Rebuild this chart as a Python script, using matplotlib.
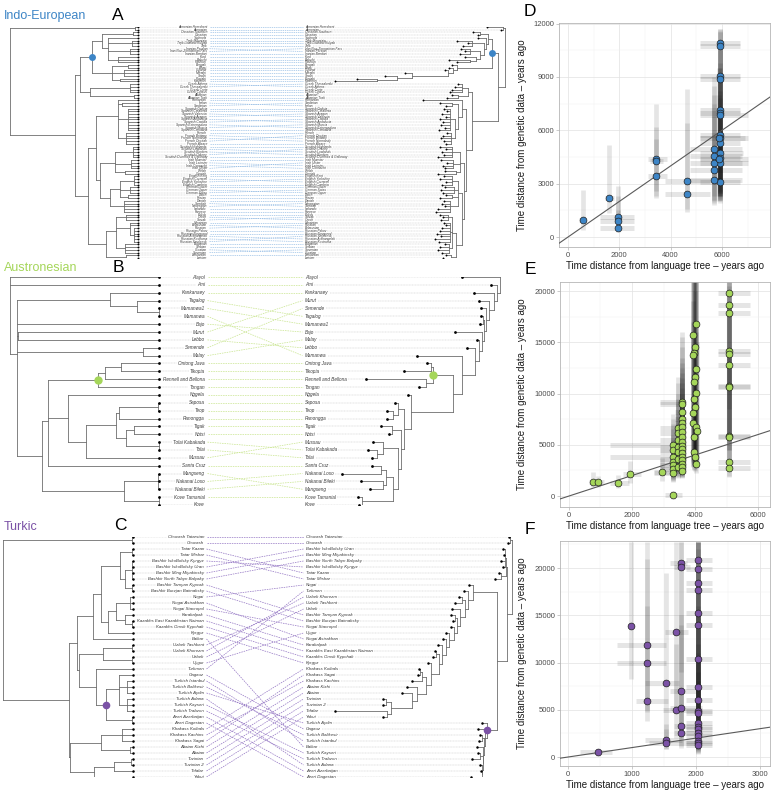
import matplotlib
matplotlib.use("Agg")
import matplotlib.pyplot as plt
from matplotlib.collections import LineCollection
from matplotlib.ticker import MultipleLocator

plt.rcParams["font.family"] = ["Liberation Sans", "DejaVu Sans"]

# ---------------------------------------------------------------- colours
IE_COL = "#3d85c6"
AN_COL = "#a5d65a"
TU_COL = "#7b52a6"
TREE_COL = "#6e6e6e"
LABEL_COL = "#3a3a3a"
GUIDE_COL = "#c4c4c4"

# ---------------------------------------------------------------- trees
# language trees: [node age (years), children...]; a bare string is a tip (age 0)
# genetic trees: [depth from root, children...]; ("tip", depth)

IE_LANG_TREE = [5930,
    [139, "Armenian Hemshent", "Armenian"],
    [2917,
        [2685,
            [2130,
                [1667, [231, "Ossetian Southern", "Ossetian"],
                       [1389, "Yaghnobi", [278, "Tajik Mountain", "Tajik Lowland Kulyab", "Tajik"],
                              [370, "Iranian Persian", "Iran Non-Zoroastrian Fars", "Iranian Bandari"],
                              [926, "Kurd", "Balochi", "Pashtun"]]],
                [1204, [463, "Bengali", "Bihari"], [648, "Gujarati", "Marathi", "Sindhi"],
                       [833, "Punjabi", "Kashmiri"]]],
            [2222, [370, "Greek Athens", "Greek Thessaloniki", "Greek Crete", "Greek Cyprus"],
                   [185, "Albanian", "Albanian Tosk"]]],
        [2315,
            [1945,
                [926, "Romanian", [741, "Italian", "Sardinian"],
                      [463, "Spanish Galicia", "Spanish Catalonia", "Spanish Valencia", "Spanish Aragon",
                            "Spanish Andalucia", "Spanish Castilla", "Spanish Extremadura", "Spanish Murcia",
                            "Spanish Cantabria"],
                      [556, "French", "French Brittany", "French Normandy", "French Occitan", "French Alsace"]],
                [1759,
                    [1065, [231, "Scottish Highlands", "Scottish Lowlands", "Scottish Borders", "Scottish Orkney",
                                 "Scottish Dumfries & Galloway"],
                           [324, "Irish Munster", "Irish Leinster", "Irish Connacht", "Irish Ulster"],
                           [602, "Welsh", "Cornish"]],
                    [1296, [833, [185, "English Kent", "English Cornwall", "English Yorkshire", "English Cumbria"],
                                 [370, "German Lower", "German Upper", "German Swiss"],
                                 [463, "Dutch", "Frisian"]],
                           [648, "Danish", "Swedish", "Norwegian", "Icelandic", "Faroese"]]]],
            [1482,
                [1019, [556, "Polish", "Czech", "Slovak"],
                       [370, "Ukrainian", "Belarusian",
                             [185, "Russian", "Russian Pskov", "Russian Novgorod", "Russian Arkhangelsk",
                                   "Russian Kostroma", "Russian Smolensk"]],
                       [602, "Bulgarian", "Serbian", "Croatian", "Slovenian"]],
                [556, "Lithuanian", "Latvian"]]]]]

IE_GEN_TREE = [0,
    [2, ("Armenian Hemshent", 18), ("Armenian", 4)],
    [7,
        [13,
            [17, [25, ("Ossetian Southern", 32), ("Ossetian", 27)],
                [19, ("Yaghnobi", 27),
                    [21, [33, ("Tajik Mountain", 48), ("Tajik Lowland Kulyab", 37), ("Tajik", 42)],
                        [25, [35, ("Iran Non-Zoroastrian Fars", 44), ("Iranian Persian", 40), ("Iranian Bandari", 45)],
                            [29, ("Kurd", 40), [35, ("Balochi", 56), ("Pashtun", 48)]]]]]],
            [48, ("Bengali", 53),
                [52, ("Bihari", 56),
                    [57, ("Gujarati", 60),
                        [93, ("Marathi", 100),
                            [108, ("Sindhi", 120), [128, ("Punjabi", 148), ("Kashmiri", 170)]]]]]]],
        [33,
            [37, [43, ("Greek Thessaloniki", 47), ("Greek Athens", 50), ("Greek Crete", 53), ("Greek Cyprus", 55)],
                 [47, ("Albanian", 53), ("Albanian Tosk", 58)]],
            [39,
                [43, ("Romanian", 82),
                    [47, [53, ("Sardinian", 65), ("Italian", 59)],
                        [50, [55, ("Spanish Galicia", 61), ("Spanish Catalonia", 58), ("Spanish Aragon", 63),
                                  ("Spanish Valencia", 59), ("Spanish Castilla", 65), ("Spanish Andalucia", 62),
                                  ("Spanish Murcia", 64), ("Spanish Extremadura", 60), ("Spanish Cantabria", 66)],
                             [54, ("French", 58), ("French Occitan", 62), ("French Brittany", 64),
                                  ("French Normandy", 61), ("French Alsace", 59)]]]],
                [41,
                    [45, [53, ("Scottish Highlands", 65), ("Scottish Orkney", 59), ("Scottish Lowlands", 63),
                              ("Scottish Borders", 61), ("Scottish Dumfries & Galloway", 67)],
                         [52, ("Irish Munster", 64), ("Irish Ulster", 58), ("Irish Leinster", 62), ("Irish Connacht", 60)],
                         [49, ("Welsh", 60), ("Cornish", 67)]],
                    [43,
                        [47, [53, ("English Kent", 61), ("English Yorkshire", 65), ("English Cornwall", 59),
                                  ("English Cumbria", 63)],
                             [51, ("German Lower", 60), ("German Swiss", 64), ("German Upper", 62)],
                             [53, ("Dutch", 59), ("Frisian", 65)],
                             [55, ("Danish", 61), ("Norwegian", 63), ("Swedish", 60), ("Icelandic", 67), ("Faroese", 69)]],
                        [49,
                            [53, [57, ("Polish", 65), ("Slovak", 62), ("Czech", 64)],
                                 [55, ("Ukrainian", 61), ("Russian", 59), ("Belarusian", 63), ("Russian Pskov", 65),
                                      ("Russian Novgorod", 68), ("Russian Smolensk", 64), ("Russian Arkhangelsk", 70),
                                      ("Russian Kostroma", 66)],
                                 [56, ("Bulgarian", 60), ("Serbian", 65), ("Slovenian", 67), ("Croatian", 63)]],
                            [54, ("Lithuanian", 59), ("Latvian", 62)]]]]]]]]

AN_LANG_TREE = [5090, "Alayol", "Ami",
    [4850,
        [1674, "Kankanaey", [752, "Tagalog", [12, "Mamanwa1", "Mamanwa"]]],
        "Bajo",
        [4820, "Murut", "Lebbo"],
        [547, "Semende", "Malay"],
        [3997,
            [3792,
                [2084, [1845, [1298, "Ontong Java", "Tikopia"], "Rennell and Bellona"], "Tongan"],
                [3109, "Nggela",
                    [2494,
                        [1469, [1366, [34, "Saposa", "Teop"], "Ranongga"],
                               [1127, [854, "Tigak", "Notsi"], [10, "Tolai Kabakada", "Tolai"]]],
                        "Mussau"]],
                "Santa Cruz"],
            [1196, [25, "Mangseng", "Nakanai Loso", "Nakanai Bileki"], [15, "Kove Tamanial", "Kove"]]]]]

AN_GEN_TREE = [0, ("Alayol", 38),
    [3, ("Ami", 9),
        [6, ("Kankanaey", 26),
            [11, ("Murut", 21),
                [14, ("Semende", 19),
                    [16, [17, ("Tagalog", 19), ("Mamanwa1", 20)],
                        [18, ("Bajo", 45),
                            [21, ("Malay", 23),
                                [25, ("Lebbo", 33),
                                    [38, ("Mamanwa", 83),
                                        [47,
                                            [67, [69, ("Ontong Java", 73), ("Tikopia", 96)],
                                                 [74, ("Rennell and Bellona", 134), ("Tongan", 81)]],
                                            [89, ("Nggela", 92),
                                                [96,
                                                    [102, ("Saposa", 105), [107, ("Teop", 113), ("Ranongga", 113)]],
                                                    [99,
                                                        [108, ("Tigak", 119), ("Notsi", 111)],
                                                        [102,
                                                            [117, ("Mussau", 127),
                                                                  [123, ("Tolai Kabakada", 132), ("Tolai", 128)]],
                                                            [107,
                                                                [114, [119, ("Santa Cruz", 128), ("Nakanai Loso", 158)],
                                                                      [117, ("Nakanai Bileki", 139), ("Mangseng", 130)]],
                                                                [138, ("Kove Tamanial", 142), ("Kove", 141)]]]]]]]]]]]]]]]]]

TU_LANG_TREE = [2030,
    [16, "Chuvash Tatarstan", "Chuvash"],
    [998,
        [874,
            [624,
                [499,
                    [203, [16, "Tatar Kazan", "Tatar Mishar"],
                          [125, [16, "Bashkir IskoBolsky Kyrgyz", "Bashkir IskoBolsky Uran",
                                     "Bashkir Ming Miyakinsky", "Bashkir North Tabyn Balyaky"],
                                [16, "Bashkir Tamyan Kypcak", "Bashkir Burzjan Baimaksky"]]],
                    [390, [265, [47, "Nogai", "Nogai Astrakhan", "Nogai Stavropol"],
                                [125, "Karakalpak", [16, "Kazakhs East Kazakhstan Naiman", "Kazakhs Omsk Kypchak"]]],
                          "Kyrgyz"]],
                "Balkar"],
            [842,
                [468, [16, "Uzbek Tashkent", "Uzbek Khorezm"], [16, "Uzbek", "Uygur"]],
                [577, "Turkmen",
                    [421, [218, "Gagauz", [94, "Turkish Istanbul", "Turkish Balikesir", "Turkish Aydin"],
                                         [94, "Turkish Adana", "Turkish Kayseri", "Turkish Trabzon"]],
                          [16, "Azeri Azerbaijan", "Azeri Dagestan"]]]]],
        [983,
            [499, [172, "Khakass Koibals", "Khakass Kachins", "Khakass Sagai"], [47, "Altaian Kizhi", "Altaian"]],
            [608, [296, [31, "Tuvinian", "Tuvinian 2"], "Tofalar"], "Yakut"]]]]

TU_GEN_TREE = [0,
    [2, ("Chuvash Tatarstan", 3), ("Chuvash", 4)],
    [5,
        [6, [7.5, ("Bashkir IskoBolsky Uran", 9), ("Bashkir Ming Miyakinsky", 8),
                  ("Bashkir North Tabyn Balyaky", 11), ("Bashkir IskoBolsky Kyrgyz", 9)],
            [11, ("Tatar Kazan", 13), ("Tatar Mishar", 17)]],
        [15,
            [39, ("Nogai", 43),
                [44, ("Turkmen", 48),
                    [47, [50, ("Uzbek Khorezm", 53), ("Uzbek Tashkent", 57)],
                        [52, ("Uzbek", 60),
                            [55, [57, ("Bashkir Tamyan Kypcak", 61), ("Bashkir Burzjan Baimaksky", 59)],
                                [58, ("Nogai Stavropol", 61),
                                    [63, ("Uygur", 66),
                                        [66, ("Nogai Astrakhan", 69),
                                            [70, ("Karakalpak", 74),
                                                [73.5, [76, ("Kazakhs East Kazakhstan Naiman", 77), ("Kazakhs Omsk Kypchak", 79)],
                                                    [81, ("Kyrgyz", 84),
                                                        [86, [90, [92, ("Khakass Koibals", 93), ("Khakass Sagai", 94)],
                                                                  ("Khakass Kachins", 100)],
                                                            [95, ("Altaian Kizhi", 105),
                                                                [100, ("Altaian", 110),
                                                                    [121, [126, ("Tuvinian", 129), ("Tuvinian 2", 129)],
                                                                          [125, ("Tofalar", 177), ("Yakut", 129)]]]]]]]]]]]]]]]],
            [25, ("Turkish Aydin", 30),
                [27, ("Gagauz", 34),
                    [28, [30, ("Turkish Balikesir", 32), ("Turkish Istanbul", 33)],
                        [29, ("Balkar", 35),
                            [29.5, [32, ("Turkish Kayseri", 34), ("Turkish Trabzon", 40)],
                                [30, ("Turkish Adana", 32),
                                     [30.5, ("Azeri Azerbaijan", 31.5), ("Azeri Dagestan", 41)]]]]]]]]]]

# the dated node (coloured dot) of each tree, given by two tips it spans
IE_DOT = ("Ossetian Southern", "Kashmiri")
AN_DOT = ("Ontong Java", "Tongan")
TU_LANG_DOT = ("Gagauz", "Azeri Dagestan")
TU_GEN_DOT = ("Turkish Aydin", "Azeri Dagestan")

# ---------------------------------------------------------------- scatter data
D_x = [570, 1610, 1940, 1940, 1940, 3420, 3420, 3420, 4640, 4640,
       5930, 5930, 5930, 5930, 5930, 5930, 5930, 5930, 5930, 5930, 5930, 5930, 5930, 5930,
       5690, 5690, 5690, 5690, 5690, 5870, 5870]
D_y = [950, 2210, 1110, 920, 510, 4370, 4280, 3430, 3150, 2420,
       10900, 10710, 9060, 8880, 7150, 6990, 6860, 5740, 5550, 5270, 4710, 4430, 4150, 3110,
       4940, 4560, 4150, 3770, 3210, 5550, 4370]
D_xlo = [430, 1450, 1260, 1260, 1260, 3100, 3200, 3100, 3780, 3780,
         5140, 5140, 5140, 5140, 5140, 5140, 5140, 5140, 5140, 5140, 5140, 5140, 5140, 5140,
         4760, 4760, 4760, 4760, 4760, 5140, 5140]
D_xhi = [720, 1780, 2570, 2570, 2570, 3870, 3700, 3870, 5540, 5540,
         6700, 6700, 6700, 6700, 6700, 6700, 7030, 6700, 6900, 6700, 6800, 6700, 7030, 6700,
         6770, 6770, 6770, 6770, 6770, 7030, 7030]
D_ylo = [380, 1340, 390, 600, 300, 2180, 2600, 2300, 1430, 1600,
         2400, 3000, 2200, 2600, 2300, 2500, 2300, 2100, 2300, 2500, 2000, 2300, 2100, 1900,
         2300, 2100, 2000, 1900, 1800, 2300, 2000]
D_yhi = [2640, 5180, 2860, 2300, 1500, 7480, 6200, 5500, 8310, 6400,
         11700, 11700, 11500, 11600, 11000, 10500, 9800, 9500, 9000, 8800, 8200, 7800, 7200, 6000,
         9000, 8500, 8000, 7500, 6800, 9500, 8000]

E_x = [770, 930, 1570, 1940, 2940, 3310,
       3310, 3310, 3310, 3310, 3310, 3310, 3310,
       3470, 3470, 3470, 3470, 3470, 3470, 3470,
       3580, 3580, 3580, 3580, 3580, 3580, 3580, 3580, 3580, 3580, 3580, 3580, 3580, 3580, 3580, 3580, 3580,
       4030, 3950, 4000, 3980, 3950, 4030, 4010, 3970, 4030, 3970, 4000, 3950, 3950, 4030, 4050, 3980, 3970, 4000, 4030,
       5090, 5090, 5090, 5090, 5090, 5090, 5090, 5090, 5090, 5090, 5090, 5090]
E_y = [1390, 1390, 1300, 2110, 2370, 60,
       4940, 4480, 3840, 3350, 3020, 2600, 2200,
       6600, 6110, 5460, 4810, 4320, 3570, 2860,
       9200, 8970, 8220, 7480, 7090, 6760, 6270, 5790, 5300, 4880, 4550, 4160, 3840, 3510, 3120, 2800, 2440,
       16830, 15690, 14560, 13910, 13750, 12350, 11640, 11150, 10010, 9420, 8710, 8060, 7090, 6760, 6370, 5790, 4320, 3840, 3120,
       19850, 18630, 17880, 14170, 13810, 12770, 10720, 10590, 5850, 5720, 3350, 2700]
E_xlo = [640, 780, 1300, 1700, 2700, 3050,
         1300, 2890, 1300, 2890, 2890, 2890, 2700,
         2890, 2890, 2890, 2890, 2890, 2890, 2890,
         2890, 2890, 3380, 3380, 3380, 3380, 3380, 3380, 3380, 3380, 3380, 3380, 3380, 3380, 3380, 3380, 3380,
         3900, 3880, 3900, 3900, 3880, 3900, 3900, 3880, 3900, 3880, 3900, 3880, 3880, 3900, 3950, 3900, 3880, 3900, 3900,
         4720, 4720, 4720, 4720, 4720, 4720, 4720, 4720, 4720, 4720, 4720, 4720]
E_xhi = [1000, 1100, 1900, 2300, 3200, 3580,
         3530, 3530, 3530, 3530, 3530, 3530, 3310,
         3620, 3620, 3620, 3620, 3620, 3620, 3620,
         3620, 3620, 3700, 3700, 3700, 3700, 3700, 3700, 3700, 3700, 3700, 3700, 3700, 3700, 3700, 3700, 3700,
         4100, 4050, 4100, 4080, 4050, 4100, 4100, 4060, 4100, 4060, 4100, 4050, 4050, 4100, 4150, 4080, 4060, 4100, 4100,
         5730, 5730, 5730, 5730, 5730, 5730, 5730, 5730, 5730, 5730, 5730, 5730]
E_ylo = [900, 900, 800, 1300, 1500, -300,
         2000, 1900, 1800, 1700, 1600, 1500, 1400,
         2500, 2400, 2200, 2100, 2000, 1900, 1800,
         3500, 3400, 3200, 3000, 2900, 2800, 2700, 2600, 2500, 2400, 2300, 2200, 2100, 2000, 1900, 1900, 1800,
         3500, 3400, 3300, 3300, 3200, 3200, 3100, 3100, 3000, 3000, 2900, 2900, 2800, 2800, 2700, 2600, 2500, 2400, 2200,
         9000, 8500, 8000, 6000, 5800, 5500, 4500, 4500, 2500, 2400, 2000, 1900]
E_yhi = [2300, 2000, 2100, 3400, 3700, 500,
         8000, 7500, 7000, 6500, 6000, 5500, 5000,
         11600, 11000, 10000, 9500, 9000, 8000, 7000,
         16000, 15500, 14500, 13500, 13000, 12500, 12000, 11500, 11000, 10500, 10000, 9500, 9000, 8500, 8000, 7500, 7000,
         21500, 21500, 21500, 21500, 21500, 21500, 21500, 21500, 21000, 21000, 20000, 19000, 17000, 16000, 15000, 14000, 11000, 10000, 8500,
         21500, 21500, 21500, 21000, 20500, 20000, 19000, 18500, 14000, 13500, 9000, 8000]

F_x = [470, 980, 1240, 1240, 1240, 1530, 1530, 1530, 1690, 1690, 1770, 1770, 1770, 1770, 1770, 1770,
       2030, 2030, 2030, 2030, 2030, 2030, 2030, 2030, 2030, 2030, 2030, 2030, 2030, 2030, 2030, 2030, 2030, 2030, 2030]
F_y = [490, 13870, 11860, 9920, 5930, 7870, 1800, 1520, 13270, 4980, 20510, 20090, 6990, 5150, 3320, 2510,
       20860, 19870, 18390, 17680, 15280, 13980, 10340, 7450, 6030, 4900, 4690, 3570, 3220, 2930, 2580, 2230, 1740, 1460, 1250]
F_xlo = [180, 940, 760, 760, 1060, 1210, 1210, 1260, 1510, 1480, 1600, 1650, 1600, 1600, 1650, 1650,
         1850, 1850, 1850, 1850, 1850, 1850, 1850, 1850, 1850, 1850, 1850, 1850, 1850, 1850, 1850, 1850, 1850, 1850, 1850]
F_xhi = [680, 1020, 1530, 1530, 1570, 1740, 1780, 2000, 1880, 2100, 1860, 1900, 2000, 2100, 2100, 2100,
         2250, 2250, 2250, 2250, 2250, 2250, 2250, 2250, 2250, 2250, 2250, 2250, 2250, 2250, 2250, 2250, 2250, 2250, 2250]
F_ylo = [100, 8280, 5000, 4800, 3800, 1200, 900, 800, 5000, 2000, 9000, 8000, 2500, 2000, 1200, 1000,
         6000, 5500, 5000, 4800, 4000, 3500, 2500, 2000, 1500, 1200, 1200, 1000, 900, 800, 700, 600, 500, 400, 300]
F_yhi = [900, 22800, 22800, 21000, 16000, 19500, 3500, 3000, 22800, 12000, 22800, 22800, 15000, 14000, 8000, 7000,
         22800, 22800, 22800, 22800, 22800, 22800, 22000, 20000, 18000, 16000, 15000, 12000, 11000, 10000, 9000, 8000, 6000, 5000, 4500]

# ---------------------------------------------------------------- figure
W, H = 771, 790
fig = plt.figure(figsize=(W / 100, H / 100), dpi=100)
fig.patch.set_facecolor("white")


def box(left, top, right, bottom):
    return [left / W, 1 - bottom / H, (right - left) / W, (bottom - top) / H]


def build(node):
    if isinstance(node, str):
        return {"name": node, "v": 0.0, "kids": []}
    if isinstance(node, tuple):
        return {"name": node[0], "v": float(node[1]), "kids": []}
    return {"name": None, "v": float(node[0]), "kids": [build(c) for c in node[1:]]}


def leaves(n):
    if not n["kids"]:
        return [n]
    return [t for k in n["kids"] for t in leaves(k)]


def place(n, ymap, xmap):
    n["x"] = xmap(n["v"])
    if not n["kids"]:
        n["y"] = ymap[n["name"]]
        return
    for k in n["kids"]:
        place(k, ymap, xmap)
    n["y"] = sum(k["y"] for k in n["kids"]) / len(n["kids"])


def segments(n, out):
    if not n["kids"]:
        return
    ys = [k["y"] for k in n["kids"]]
    out.append([(n["x"], min(ys)), (n["x"], max(ys))])
    for k in n["kids"]:
        out.append([(n["x"], k["y"]), (k["x"], k["y"])])
        segments(k, out)


def mrca(n, names):
    for k in n["kids"]:
        if names <= {t["name"] for t in leaves(k)}:
            return mrca(k, names)
    return n


def draw_tree(ax, root, xmap, dot_pair, dot_col, dot_ms, tip_ms):
    ymap = {t["name"]: i for i, t in enumerate(leaves(root))}
    place(root, ymap, xmap)
    segs = []
    segments(root, segs)
    ax.add_collection(LineCollection(segs, colors=TREE_COL, linewidths=0.6,
                                     capstyle="projecting", zorder=2))
    tips = leaves(root)
    ax.plot([t["x"] for t in tips], [t["y"] for t in tips], "o", ms=tip_ms,
            color="black", mew=0, zorder=3)
    node = mrca(root, set(dot_pair))
    ax.plot(node["x"], node["y"], "o", ms=dot_ms, color=dot_col, mew=0, zorder=4)
    return tips


def tanglegram(lang, gen, cfg):
    ax = fig.add_axes(box(0, cfg["y0"], 530, cfg["y1"]))
    ax.axis("off")
    left = build(lang)
    right = build(gen)
    n = len(leaves(left))
    ax.set_xlim(0, 530)
    ax.set_ylim(n - 1, 0)

    rv = left["v"]
    lx = lambda v: cfg["l_root"] + (rv - v) / rv * (cfg["l_tip"] - cfg["l_root"])
    rx = lambda v: cfg["r_root"] - v * cfg["r_scale"]
    ltips = draw_tree(ax, left, lx, cfg["dot_l"], cfg["col"], cfg["dot_ms"], cfg["tip_ms"])
    rtips = draw_tree(ax, right, rx, cfg["dot_r"], cfg["col"], cfg["dot_ms"], cfg["tip_ms"])

    kw = dict(fontsize=cfg["fs"], style="italic", color=LABEL_COL, va="center", clip_on=False)
    ltxt = [ax.text(cfg["l_lab"], t["y"], t["name"], ha="right", **kw) for t in ltips]
    rtxt = [ax.text(cfg["r_lab"], t["y"], t["name"], ha="left", **kw) for t in rtips]

    rend = fig.canvas.get_renderer()
    inv = ax.transData.inverted()
    guides = []
    for t, txt in zip(ltips, ltxt):
        x0 = inv.transform((txt.get_window_extent(rend).x0, 0))[0]
        guides.append([(t["x"] + 1.0, t["y"]), (x0 - 1.0, t["y"])])
    for t, txt in zip(rtips, rtxt):
        x1 = inv.transform((txt.get_window_extent(rend).x1, 0))[0]
        guides.append([(x1 + 1.0, t["y"]), (t["x"] - 1.0, t["y"])])
    ax.add_collection(LineCollection(guides, colors=GUIDE_COL, linewidths=0.35,
                                     linestyles=[(0, (2.0, 1.2))], zorder=1))

    ry = {t["name"]: t["y"] for t in rtips}
    links = [[(cfg["l_lab"] + 2.5, t["y"]), (cfg["r_lab"] - 2.5, ry[t["name"]])] for t in ltips]
    ax.add_collection(LineCollection(links, colors=cfg["link_col"], linewidths=cfg["link_lw"],
                                     linestyles=[(0, (2.2, 1.3))], zorder=1))


tanglegram(IE_LANG_TREE, IE_GEN_TREE,
           dict(y0=27, y1=258, l_root=10, l_tip=138, l_lab=207, r_lab=305, r_root=505, r_scale=1.0,
                dot_l=IE_DOT, dot_r=IE_DOT, col=IE_COL, dot_ms=5, tip_ms=1.4, fs=2.3,
                link_col="#8fb9e3", link_lw=0.45))
tanglegram(AN_LANG_TREE, AN_GEN_TREE,
           dict(y0=277, y1=505, l_root=10, l_tip=159, l_lab=205, r_lab=305, r_root=500, r_scale=1.0,
                dot_l=AN_DOT, dot_r=AN_DOT, col=AN_COL, dot_ms=6, tip_ms=2.0, fs=3.3,
                link_col="#c9e58f", link_lw=0.5))
tanglegram(TU_LANG_TREE, TU_GEN_TREE,
           dict(y0=537, y1=777, l_root=3, l_tip=133, l_lab=204, r_lab=306, r_root=512, r_scale=1.0,
                dot_l=TU_LANG_DOT, dot_r=TU_GEN_DOT, col=TU_COL, dot_ms=5.5, tip_ms=1.8, fs=3.2,
                link_col="#9476c4", link_lw=0.5))


def scatter_panel(rect, xs, ys, xlo, xhi, ylo, yhi, col, xlim, ylim, xstep, ystep):
    ax = fig.add_axes(box(*rect))
    ax.set_xlim(*xlim)
    ax.set_ylim(*ylim)
    ax.vlines(xs, ylo, yhi, colors="black", alpha=0.1, linewidths=3.4, zorder=2)
    ax.hlines(ys, xlo, xhi, colors="black", alpha=0.1, linewidths=3.6, zorder=2)
    ax.axline((0, 0), slope=1, color="#5a5a5a", linewidth=0.8, zorder=3)
    ax.scatter(xs, ys, s=24, c=col, edgecolors="#202020", linewidths=0.5, zorder=4)
    ax.xaxis.set_major_locator(MultipleLocator(xstep))
    ax.xaxis.set_minor_locator(MultipleLocator(xstep / 2))
    ax.yaxis.set_major_locator(MultipleLocator(ystep))
    ax.yaxis.set_minor_locator(MultipleLocator(ystep / 2))
    ax.grid(which="major", color="#e2e2e2", linewidth=0.5)
    ax.grid(which="minor", color="#efefef", linewidth=0.35)
    ax.set_axisbelow(True)
    for s in ax.spines.values():
        s.set_color("#b5b5b5")
        s.set_linewidth(0.6)
    ax.tick_params(which="major", length=2, width=0.5, color="#b5b5b5",
                   labelsize=5.5, labelcolor="#4d4d4d", pad=1.5)
    ax.tick_params(which="minor", length=0)
    l, t, r, b = rect
    fig.text(522 / W, 1 - (t + b) / 2 / H, "Time distance from genetic data \u2013 years ago",
             rotation=90, ha="center", va="center", fontsize=7, color="#1a1a1a")
    fig.text((l + r) / 2 / W, 1 - (b + 19) / H, "Time distance from language tree \u2013 years ago",
             ha="center", va="center", fontsize=7, color="#1a1a1a")
    return ax


scatter_panel((559, 23, 770, 247), D_x, D_y, D_xlo, D_xhi, D_ylo, D_yhi, IE_COL,
              (-350, 7870), (-560, 12030), 2000, 3000)
scatter_panel((560, 282, 770, 507), E_x, E_y, E_xlo, E_xhi, E_ylo, E_yhi, AN_COL,
              (-285, 6380), (-1070, 20880), 2000, 5000)
scatter_panel((560, 541, 770, 766), F_x, F_y, F_xlo, F_xhi, F_ylo, F_yhi, TU_COL,
              (-125, 3156), (-950, 22860), 1000, 5000)

# panel letters and family titles
for letter, (px, py) in {"A": (118, 15), "B": (118, 267), "C": (120, 526),
                         "D": (530, 12), "E": (530, 270), "F": (530, 530)}.items():
    fig.text(px / W, 1 - py / H, letter, ha="center", va="center", fontsize=12.5, color="black")
for title, col, py in [("Indo-European", IE_COL, 16), ("Austronesian", AN_COL, 268), ("Turkic", TU_COL, 527)]:
    fig.text(4 / W, 1 - py / H, title, ha="left", va="center", fontsize=9, color=col)

fig.savefig("out.png", dpi=100, facecolor="white")
